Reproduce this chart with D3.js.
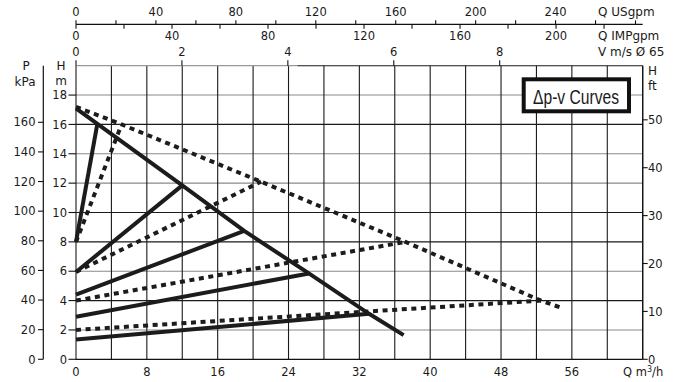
<!DOCTYPE html>
<html><head><meta charset="utf-8">
<script src="https://cdn.jsdelivr.net/npm/d3@7/dist/d3.min.js"></script>
<style>
body{margin:0;background:#fff;}
svg text{font-family:"DejaVu Sans",sans-serif;fill:#1a1a1a;}
</style></head>
<body><svg id="c" width="680" height="382"></svg>
<script>
// ---- data (Q in m3/h, H in m) ----
const maxSolidQ = [0, 12.0, 19.0, 26.3, 33.1, 37.0];
const maxSolidH = [17.1, 11.85, 8.75, 5.85, 3.1, 1.65];
const maxDotQ = [0, 5.15, 20.9, 37.2, 52.5, 54.6];
const maxDotH = [17.2, 16.0, 12.1, 8.0, 4.0, 3.55];
// proportional pressure (solid) settings
const propStartH = [8.0, 5.95, 4.4, 2.9, 1.35];
const propEndQ = [2.4, 12.0, 19.0, 26.3, 33.1];
const propEndH = [16.0, 11.85, 8.75, 5.85, 3.1];
// dotted settings
const dotStartH = [8.0, 5.95, 4.0, 2.0];
const dotEndQ = [5.15, 20.9, 37.2, 52.5];
const dotEndH = [16.0, 12.1, 8.0, 4.0];
// tick labels
const qTicks = [0, 8, 16, 24, 32, 40, 48, 56];
const hTicks = [0, 2, 4, 6, 8, 10, 12, 14, 16, 18];
const kpaTicks = [0, 20, 40, 60, 80, 100, 120, 140, 160];
const ftTicks = [0, 10, 20, 30, 40, 50];
const usTicks = [0, 40, 80, 120, 160, 200, 240];
const impTicks = [0, 40, 80, 120, 160, 200];
const vTicks = [0, 2, 4, 6, 8];

const svg = d3.select("#c");
const L = 76, R = 642.7, B = 359.3, T = 65.7;
const x = d3.scaleLinear().domain([0, 64]).range([L, R]);
const y = d3.scaleLinear().domain([0, 20]).range([B, T]);
const yK = d3.scaleLinear().domain([0, 198.2]).range([B, T]);
const yF = d3.scaleLinear().domain([0, 61.3]).range([B, T]);
const xUS = d3.scaleLinear().domain([0, 283.6]).range([L, R]);
const xIMP = d3.scaleLinear().domain([0, 236.1]).range([L, R]);
const xV = d3.scaleLinear().domain([0, 10.7]).range([L, R]);
const FS = 11.5;

// gridlines
const grayH = new Set([2, 6, 12, 14, 18]);
svg.append("g").selectAll("line").data(d3.range(2, 20, 2)).join("line")
  .attr("x1", L).attr("x2", R).attr("y1", d => y(d)).attr("y2", d => y(d))
  .attr("stroke", d => grayH.has(d) ? "#8a8a8a" : "#1a1a1a").attr("stroke-width", 1.1);
svg.append("g").selectAll("line").data(d3.range(0, 68, 4)).join("line")
  .attr("x1", d => x(d)).attr("x2", d => x(d)).attr("y1", T).attr("y2", B)
  .attr("stroke", "#1a1a1a").attr("stroke-width", 1.1);
// top border
svg.append("line").attr("x1", L).attr("x2", x(25)).attr("y1", T).attr("y2", T).attr("stroke", "#999").attr("stroke-width", 1.2);
svg.append("line").attr("x1", x(25)).attr("x2", R).attr("y1", T).attr("y2", T).attr("stroke", "#1a1a1a").attr("stroke-width", 1.1);
// bottom axis
svg.append("line").attr("x1", L).attr("x2", R).attr("y1", B).attr("y2", B).attr("stroke", "#111").attr("stroke-width", 1.3);
svg.append("g").selectAll("text").data(qTicks).join("text")
  .attr("x", d => x(d)).attr("y", 376).attr("text-anchor", "middle").attr("font-size", FS).text(d => d);
const ql = svg.append("text").attr("x", 623).attr("y", 376).attr("font-size", FS);
ql.append("tspan").text("Q m");
ql.append("tspan").attr("font-size", 8).attr("dy", -4).text("3");
ql.append("tspan").attr("dy", 4).text("/h");

// left H m axis
svg.append("g").selectAll("line").data(hTicks).join("line")
  .attr("x1", 68.5).attr("x2", L).attr("y1", d => y(d)).attr("y2", d => y(d)).attr("stroke", "#111").attr("stroke-width", 1.1);
svg.append("g").selectAll("text").data(hTicks).join("text")
  .attr("x", 67).attr("y", d => y(d) + 4.2).attr("text-anchor", "end").attr("font-size", FS).text(d => d);
svg.append("text").attr("x", 61).attr("y", 70).attr("text-anchor", "middle").attr("font-size", 12).text("H");
svg.append("text").attr("x", 61).attr("y", 85).attr("text-anchor", "middle").attr("font-size", 12).text("m");

// kPa axis
svg.append("line").attr("x1", 43.3).attr("x2", 43.3).attr("y1", T).attr("y2", B).attr("stroke", "#111").attr("stroke-width", 1.2);
svg.append("g").selectAll("line").data(kpaTicks).join("line")
  .attr("x1", 38).attr("x2", 43.3).attr("y1", d => yK(d)).attr("y2", d => yK(d)).attr("stroke", "#111").attr("stroke-width", 1.1);
svg.append("g").selectAll("text").data(kpaTicks).join("text")
  .attr("x", 35.5).attr("y", d => yK(d) + 4.2).attr("text-anchor", "end").attr("font-size", FS).text(d => d);
svg.append("text").attr("x", 26).attr("y", 70).attr("text-anchor", "middle").attr("font-size", 12).text("P");
svg.append("text").attr("x", 25).attr("y", 86).attr("text-anchor", "middle").attr("font-size", 12).text("kPa");

// right ft axis
svg.append("line").attr("x1", R).attr("x2", R).attr("y1", T).attr("y2", B).attr("stroke", "#111").attr("stroke-width", 1.2);
svg.append("g").selectAll("line").data(ftTicks).join("line")
  .attr("x1", R).attr("x2", R + 5).attr("y1", d => yF(d)).attr("y2", d => yF(d)).attr("stroke", "#111").attr("stroke-width", 1.1);
svg.append("g").selectAll("text").data(ftTicks).join("text")
  .attr("x", 648).attr("y", d => yF(d) + 4.2).attr("font-size", FS).text(d => d);
svg.append("text").attr("x", 648).attr("y", 75).attr("font-size", 12).text("H");
svg.append("text").attr("x", 648).attr("y", 89.5).attr("font-size", 12).text("ft");

// top axes
const topY = 24.3;
svg.append("line").attr("x1", L).attr("x2", R).attr("y1", topY).attr("y2", topY).attr("stroke", "#111").attr("stroke-width", 1.2);
svg.append("g").selectAll("line").data(d3.range(0, 281, 20)).join("line")
  .attr("x1", d => xUS(d)).attr("x2", d => xUS(d)).attr("y1", topY - 4).attr("y2", topY).attr("stroke", "#111").attr("stroke-width", 1.1);
svg.append("g").selectAll("text").data(usTicks).join("text")
  .attr("x", d => xUS(d)).attr("y", 15.5).attr("text-anchor", "middle").attr("font-size", FS).text(d => d);
svg.append("g").selectAll("line").data(d3.range(0, 235, 20)).join("line")
  .attr("x1", d => xIMP(d)).attr("x2", d => xIMP(d)).attr("y1", topY).attr("y2", topY + 4.5).attr("stroke", "#111").attr("stroke-width", 1.1);
svg.append("g").selectAll("text").data(impTicks).join("text")
  .attr("x", d => xIMP(d)).attr("y", 39.5).attr("text-anchor", "middle").attr("font-size", FS).text(d => d);
svg.append("g").selectAll("line").data(vTicks).join("line")
  .attr("x1", d => xV(d)).attr("x2", d => xV(d)).attr("y1", T - 5.5).attr("y2", T).attr("stroke", "#111").attr("stroke-width", 1.1);
svg.append("g").selectAll("text").data(vTicks).join("text")
  .attr("x", d => xV(d)).attr("y", 56).attr("text-anchor", "middle").attr("font-size", FS).text(d => d);
svg.append("text").attr("x", 598).attr("y", 15.5).attr("font-size", 12).text("Q USgpm");
svg.append("text").attr("x", 598).attr("y", 39.5).attr("font-size", 12).text("Q IMPgpm");
svg.append("text").attr("x", 598).attr("y", 56).attr("font-size", 12).text("V m/s Ø 65");

// curves
const line = d3.line().x(d => x(d[0])).y(d => y(d[1]));
const CL = "#1c1c1c";
const dotStyle = g => g.attr("fill", "none").attr("stroke", CL).attr("stroke-width", 4).attr("stroke-dasharray", "5,4.6");
const solidStyle = g => g.attr("fill", "none").attr("stroke", CL).attr("stroke-width", 4);

dotStartH.forEach((h, i) => {
  svg.append("path").attr("d", line([[0, h], [dotEndQ[i], dotEndH[i]]])).call(dotStyle);
});
svg.append("path").attr("d", line(maxDotQ.map((q, i) => [q, maxDotH[i]]))).call(dotStyle);
propStartH.forEach((h, i) => {
  svg.append("path").attr("d", line([[0, h], [propEndQ[i], propEndH[i]]])).call(solidStyle);
});
svg.append("path").attr("d", line(maxSolidQ.map((q, i) => [q, maxSolidH[i]]))).call(solidStyle);

// legend box
svg.append("rect").attr("x", 523.7).attr("y", 79.3).attr("width", 105.3).attr("height", 32)
  .attr("fill", "#fff").attr("stroke", "#111").attr("stroke-width", 4);
svg.append("text").attr("x", 533).attr("y", 104).attr("font-size", 20)
  .attr("style", "font-family:'Liberation Sans Narrow','Liberation Sans',sans-serif")
  .attr("textLength", 86).attr("lengthAdjust", "spacingAndGlyphs").text("Δp-v Curves");
</script></body></html>
